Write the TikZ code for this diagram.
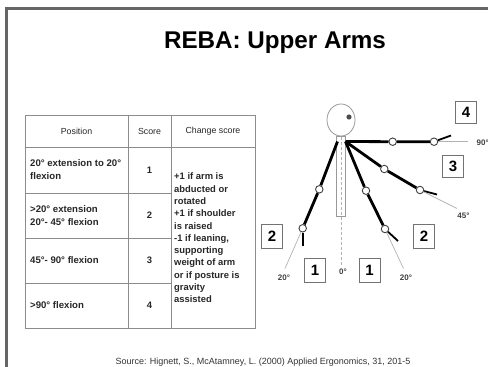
\documentclass[tikz,border=0pt]{standalone}
\usepackage{fontspec}
\setmainfont{Liberation Sans}
\begin{document}
\begin{tikzpicture}[x=1pt,y=-1pt,
  tabline/.style={draw=black!45, line width=0.9pt},
  headtxt/.style={font=\fontsize{8.8}{11}\selectfont, text=black!85, inner sep=0pt},
  celltxt/.style={font=\fontsize{9.6}{13}\selectfont\bfseries, text=black!85, inner sep=0pt, align=left},
  scoretxt/.style={font=\fontsize{9.4}{11}\selectfont\bfseries, text=black!85, inner sep=0pt},
  arm/.style={line width=2.8pt, black},
  joint/.style={circle, draw=black!75, fill=white, line width=0.9pt, minimum size=7.5pt, inner sep=0pt},
  refline/.style={draw=black!30, line width=0.7pt},
  scorebox/.style={draw=black!55, line width=0.9pt, minimum width=21pt, minimum height=24pt, inner sep=0pt,
    font=\fontsize{15}{15}\selectfont\bfseries},
  anglabel/.style={font=\fontsize{8}{8}\selectfont\bfseries, text=black!75, inner sep=0pt}
]
\useasboundingbox (0,0) rectangle (488,367);
\clip (0,0) rectangle (488,367);

% slide frame
\draw[line width=2.2pt, black!60] (6.5,380) -- (6.5,8.5) -- (500,8.5);

% title
\node[font=\fontsize{24.2}{29}\selectfont\bfseries, anchor=base] (title) at (275,48) {REBA: Upper Arms};

% score table
\draw[tabline] (25,115) rectangle (255,328);
\draw[tabline] (128,115) -- (128,328);
\draw[tabline] (171,115) -- (171,328);
\draw[tabline] (25,147) -- (255,147);
\draw[tabline] (25,193) -- (171,193);
\draw[tabline] (25,238) -- (171,238);
\draw[tabline] (25,283) -- (171,283);

\node[headtxt] (hpos) at (76.5,131) {Position};
\node[headtxt] (hscore) at (149.5,131) {Score};
\node[headtxt] (hchange) at (213,131) {Change score};

\node[celltxt, anchor=west] (p1) at (30,170) {20° extension to 20°\\flexion};
\node[celltxt, anchor=west] (p2) at (30,215.5) {>20° extension\\20°- 45° flexion};
\node[celltxt, anchor=west] (p3) at (30,260.5) {45°- 90° flexion};
\node[celltxt, anchor=west] (p4) at (30,305.5) {>90° flexion};

\node[scoretxt] (s1) at (149.5,170) {1};
\node[scoretxt] (s2) at (149.5,215.5) {2};
\node[scoretxt] (s3) at (149.5,260.5) {3};
\node[scoretxt] (s4) at (149.5,305.5) {4};

\node[celltxt, anchor=west, font=\fontsize{9.4}{12.3}\selectfont\bfseries] (chg) at (174,238)
  {+1 if arm is\\abducted or\\rotated\\+1 if shoulder\\is raised\\-1 if leaning,\\supporting\\weight of arm\\or if posture is\\gravity\\assisted};

% figure: head, trunk and vertical reference
\draw[draw=black!40, line width=0.8pt] (341,120) ellipse (14 and 16);
\fill[black!70] (349,117) circle (2.6);
\draw[refline, dashed, dash pattern=on 3pt off 2pt] (341,137) -- (341,266);
\node[draw=black!40, line width=0.8pt, minimum width=8.5pt, minimum height=80pt, inner sep=0pt] (trunk) at (341,176) {};
\coordinate (shR) at (345.5,141.5);
\coordinate (shL) at (337.5,141.5);

% arm positions
\node[joint] (e4) at (392.7,141.7) {};
\node[joint] (w4) at (434,141.7) {};
\coordinate (h4) at (451,135.5);
\draw[arm] (shR) -- (e4) -- (w4);
\draw[line width=1.8pt] (w4) -- (h4);

\node[joint] (e3) at (384.3,169) {};
\node[joint] (w3) at (420,190) {};
\coordinate (h3) at (437,194.5);
\draw[arm] (shR) -- (e3) -- (w3);
\draw[line width=1.8pt] (w3) -- (h3);

\node[joint] (e2) at (366,190.7) {};
\node[joint] (w2) at (385,229) {};
\coordinate (h2) at (398,241);
\draw[arm] (shR) -- (e2) -- (w2);
\draw[line width=1.8pt] (w2) -- (h2);

\node[joint] (e1) at (319.3,189.3) {};
\node[joint] (w1) at (302.7,228.3) {};
\coordinate (h1) at (302.7,246);
\draw[arm] (shL) -- (e1) -- (w1);
\draw[line width=1.8pt] (w1) -- (h1);

% angle reference lines and labels
\coordinate (r90) at (468,141.7);
\coordinate (r45) at (457,208.5);
\coordinate (r20f) at (403.5,268.5);
\coordinate (r20e) at (285,268.5);
\draw[refline] (w4) -- (r90);
\draw[refline] (w3) -- (r45);
\draw[refline] (w2) -- (r20f);
\draw[refline] (w1) -- (r20e);

\node[anglabel, anchor=west] (l90) at (476.5,143) {90°};
\node[anglabel] (l45) at (463.5,216) {45°};
\node[anglabel] (l20f) at (406,278) {20°};
\node[anglabel] (l20e) at (284,278) {20°};
\node[anglabel] (l0) at (343,272) {0°};

% score boxes
\node[scorebox, minimum height=22pt] (b4) at (466,112.5) {4};
\node[scorebox, minimum height=22pt] (b3) at (453,166.5) {3};
\node[scorebox] (b2r) at (424,236) {2};
\node[scorebox] (b2l) at (272,236) {2};
\node[scorebox] (b1l) at (315,270) {1};
\node[scorebox] (b1r) at (369.5,270) {1};

% source line
\node[font=\fontsize{9}{10}\selectfont, text=black!80, anchor=base] (src) at (263,364)
  {Source: Hignett, S., McAtamney, L. (2000) Applied Ergonomics, 31, 201-5};
\end{tikzpicture}
\end{document}
